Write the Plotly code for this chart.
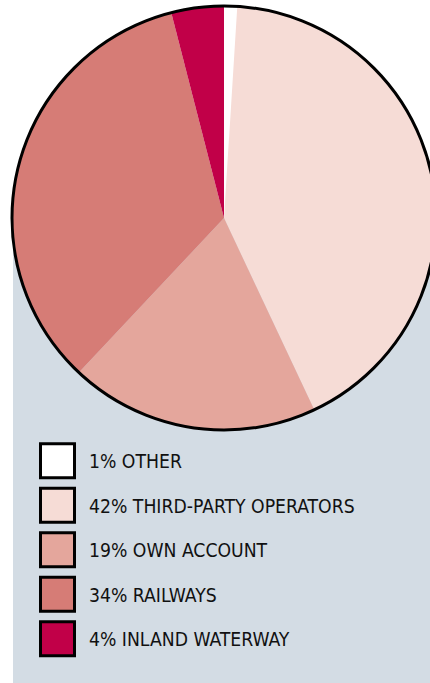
import plotly.graph_objects as go

# Modal split shares (percent), clockwise from 12 o'clock
categories = ["OTHER", "THIRD-PARTY OPERATORS", "OWN ACCOUNT", "RAILWAYS", "INLAND WATERWAY"]
shares = [1, 42, 19, 34, 4]
colors = ["#FFFFFF", "#F6DCD6", "#E4A69C", "#D67C76", "#C10048"]
legend_labels = [f"{v}% {c}" for v, c in zip(shares, categories)]

W, H = 444, 683          # figure is a bit wider than the window; the pie runs off the right edge
BG = "#D3DCE4"
FONT = "DejaVu Sans Condensed, Liberation Sans Narrow, sans-serif"

# pie geometry in pixels
cx, cy, r = 224, 218, 212
dom_x = [(cx - r) / W, (cx + r) / W]
dom_y = [(H - (cy + r)) / H, (H - (cy - r)) / H]

fig = go.Figure()

fig.add_trace(go.Pie(
    values=shares, labels=categories, sort=False, direction="clockwise", rotation=0,
    marker=dict(colors=colors, line=dict(width=0)),
    textinfo="none", hoverinfo="label+percent", domain=dict(x=dom_x, y=dom_y),
    showlegend=False,
))
# outer rim of the pie
fig.add_trace(go.Pie(
    values=[1], labels=["rim"], sort=False,
    marker=dict(colors=["rgba(0,0,0,0)"], line=dict(color="black", width=3)),
    textinfo="none", hoverinfo="skip", domain=dict(x=dom_x, y=dom_y),
    showlegend=False,
))

# legend: swatches and labels laid out on a pixel-scaled axis
sw_x = 57.5
row0, row_gap = 460.7, 44.5
ys = [row0 + i * row_gap for i in range(len(categories))]
fig.add_trace(go.Scatter(
    x=[sw_x] * len(categories), y=ys, mode="markers",
    marker=dict(symbol="square", size=34, color=colors, line=dict(color="black", width=3)),
    hoverinfo="skip", showlegend=False, cliponaxis=False,
))
for y, lab in zip(ys, legend_labels):
    fig.add_annotation(x=87, y=y + 1, xref="x", yref="y", text=lab, showarrow=False,
                       xanchor="left", yanchor="middle",
                       font=dict(family=FONT, size=19.2, color="#111111"))

fig.add_shape(type="rect", xref="x", yref="y", x0=13, x1=W + 5, y0=cy, y1=H + 5,
              fillcolor=BG, line=dict(width=0), layer="below")

fig.update_layout(
    width=W, height=H, margin=dict(l=0, r=0, t=0, b=0),
    paper_bgcolor="white", plot_bgcolor="rgba(0,0,0,0)",
    xaxis=dict(range=[0, W], domain=[0, 1], visible=False, fixedrange=True),
    yaxis=dict(range=[H, 0], domain=[0, 1], visible=False, fixedrange=True),
    showlegend=False,
)

fig.write_html("out.html", config={"displayModeBar": False},
               post_script="document.documentElement.style.overflow='hidden';document.body.style.overflow='hidden';")
